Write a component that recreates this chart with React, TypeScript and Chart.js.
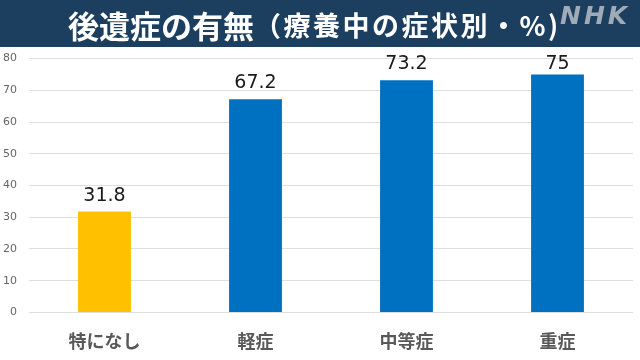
import React, { useEffect, useRef } from "react";
import { Chart, registerables } from "chart.js";

Chart.register(...registerables);

const categories = ["特になし", "軽症", "中等症", "重症"];
const values = [31.8, 67.2, 73.2, 75];
const barColors = ["#FFC000", "#0070C0", "#0070C0", "#0070C0"];
const valueLabels = ["31.8", "67.2", "73.2", "75"];
const titleMain = "後遺症の有無";
const titleSub = "（療養中の症状別・%)";

const JP = '"Noto Sans CJK JP", "Noto Sans", sans-serif';
const NUM = '"DejaVu Sans", sans-serif';

const valueLabelPlugin = {
  id: "valueLabels",
  afterDatasetsDraw(chart: any) {
    const ctx = chart.ctx;
    const meta = chart.getDatasetMeta(0);
    const minBaseline = chart.chartArea.top + 10;
    ctx.save();
    ctx.font = `19px ${NUM}`;
    ctx.fillStyle = "#1a1a1a";
    ctx.textAlign = "center";
    ctx.textBaseline = "alphabetic";
    meta.data.forEach((bar: any, i: number) => {
      const y = Math.max(bar.y - 11, minBaseline);
      ctx.fillText(valueLabels[i], bar.x, y);
    });
    ctx.restore();
  },
};

export default function App() {
  const ref = useRef<HTMLCanvasElement | null>(null);

  useEffect(() => {
    if (!ref.current) return;
    const chart = new Chart(ref.current, {
      type: "bar",
      data: {
        labels: categories,
        datasets: [
          {
            data: values,
            backgroundColor: barColors,
            borderWidth: 0,
            categoryPercentage: 1,
            barPercentage: 0.35,
          },
        ],
      },
      options: {
        animation: false,
        responsive: false,
        maintainAspectRatio: false,
        layout: { padding: { left: 0, right: 7, top: 0, bottom: 0 } },
        plugins: {
          legend: { display: false },
          tooltip: { enabled: false },
          title: { display: false },
        },
        scales: {
          x: {
            grid: { display: false, drawTicks: false },
            border: { display: false },
            ticks: {
              color: "#595959",
              font: { family: JP, size: 18, weight: "bold" },
              padding: 18,
              maxRotation: 0,
            },
          },
          y: {
            min: 0,
            max: 80,
            grid: { color: "#dedede", drawTicks: false, lineWidth: 1 },
            border: { display: false },
            ticks: {
              stepSize: 10,
              color: "#666666",
              font: { family: NUM, size: 11 },
              padding: 12,
            },
          },
        },
      },
      plugins: [valueLabelPlugin],
    });
    return () => chart.destroy();
  }, []);

  return (
    <div
      style={{
        position: "absolute",
        left: 0,
        top: 0,
        width: 640,
        height: 360,
        background: "#ffffff",
        overflow: "hidden",
        fontFamily: JP,
      }}
    >
      <canvas
        ref={ref}
        width={649}
        height={330}
        style={{ position: "absolute", left: -9, top: 40, width: 649, height: 330 }}
      />
      <div
        style={{
          position: "absolute",
          left: 0,
          top: 0,
          width: 640,
          height: 47,
          background: "#1d3f5f",
        }}
      >
        <div
          style={{
            position: "absolute",
            left: 68,
            top: 1,
            height: 47,
            display: "flex",
            alignItems: "center",
            color: "#ffffff",
            fontWeight: 700,
            whiteSpace: "nowrap",
          }}
        >
          <span style={{ fontSize: 31, lineHeight: "47px" }}>{titleMain}</span>
          <span style={{ fontSize: 27, lineHeight: "47px", letterSpacing: 2.5 }}>{titleSub}</span>
        </div>
        <div
          style={{
            position: "absolute",
            left: 560,
            top: 2,
            fontFamily: NUM,
            fontWeight: 700,
            fontStyle: "italic",
            fontSize: 25,
            lineHeight: "28px",
            letterSpacing: 3,
            color: "#9fabb7",
          }}
        >
          NHK
        </div>
      </div>
    </div>
  );
}
